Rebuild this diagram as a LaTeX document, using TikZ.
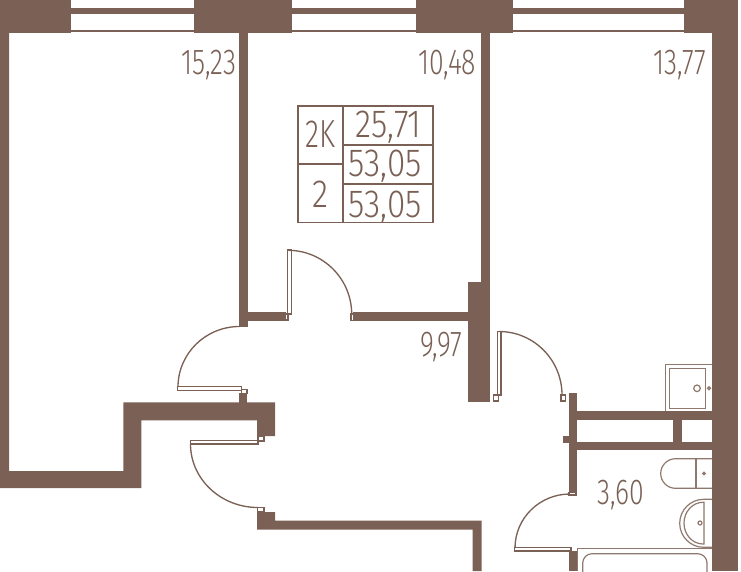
\documentclass[tikz,border=0pt]{standalone}
\usepackage{fontspec}
\newfontfamily\planfont[FakeStretch=0.74]{Fira Sans Light}
\newfontfamily\cellfont[FakeStretch=0.85]{Fira Sans Light}
\newfontfamily\codefont[FakeStretch=0.74]{Fira Sans Light}
\definecolor{wall}{HTML}{7B6155}
\tikzset{
  wallfill/.style={fill=wall,draw=none},
  thin line/.style={draw=wall,line width=0.8pt,fill=none},
  door leaf/.style={draw=wall,line width=0.8pt,fill=white},
  door swing/.style={draw=wall,line width=1pt,fill=none},
  fixture/.style={draw=wall!85!white,line width=0.9pt,fill=none},
  area/.style={text=wall,anchor=base east,inner sep=0pt,font=\planfont\fontsize{27}{27}\selectfont},
  cell/.style={text=wall,anchor=base east,inner sep=0pt,font=\cellfont\fontsize{29.4}{29.4}\selectfont},
  code/.style={text=wall,anchor=base east,inner sep=0pt,font=\codefont\fontsize{29.4}{29.4}\selectfont},
}
\begin{document}
\begin{tikzpicture}[x=0.75pt,y=-0.75pt]
\useasboundingbox (0,0) rectangle (741,571);
\fill[white] (0,0) rectangle (741,571);
% window bands
\fill[wallfill] (0,8.3) rectangle (690,14);
\fill[wallfill] (0,29.5) rectangle (690,31.5);
% piers
\fill[wallfill] (0,0) rectangle (71,32.5);
\fill[wallfill] (194,0) rectangle (292,32.5);
\fill[wallfill] (416,0) rectangle (513,32.5);
\fill[wallfill] (684,0) rectangle (738.3,32.5);
% outer walls
\fill[wallfill] (712,0) rectangle (738.3,571);
\fill[wallfill] (0,32) -- (9,32) -- (9,471) -- (123.3,471) -- (123.3,402.3) -- (275,402.3) -- (275,436) -- (257,436) -- (257,420.3) -- (141.3,420.3) -- (141.3,488) -- (0,488) -- cycle;
% partitions
\fill[wallfill] (239.3,32) rectangle (248,327);
\fill[wallfill] (248,312) rectangle (286,320.7);
\fill[wallfill] (353,312.3) rectangle (468,320.7);
\fill[wallfill] (481,32) rectangle (489.5,282);
\fill[wallfill] (468,281.7) rectangle (489.5,401.7);
\fill[wallfill] (239.3,393) rectangle (247.3,403);
\fill[wallfill] (568.7,393.3) rectangle (577,492.7);
\fill[wallfill] (562.7,435.7) rectangle (569,443);
\fill[wallfill] (577,411.3) rectangle (712,420);
\fill[wallfill] (577,441.7) rectangle (712,450);
\fill[wallfill] (673.3,420) rectangle (681.7,442);
\fill[wallfill] (568.7,551) rectangle (577,571);
\fill[wallfill] (257,512) -- (275,512) -- (275,520.5) -- (481.7,520.5) -- (481.7,571) -- (472.7,571) -- (472.7,529.5) -- (257,529.5) -- cycle;
% doors: leaves and jambs
\path[door leaf] (287.5,250) rectangle (291.3,314);
\path[door leaf] (285.2,314) rectangle (288,320);
\path[door leaf] (351,314) rectangle (354,320.5);
\draw[door swing] (288,250.3) arc[start angle=-90,end angle=0,x radius=63.7,y radius=64];
\path[door leaf] (177.5,386.3) rectangle (241.5,390.5);
\path[door leaf] (241.3,389.5) rectangle (247,393.3);
\draw[door swing] (178,387) arc[start angle=180,end angle=270,x radius=61.5,y radius=60.5];
\path[door leaf] (190.3,440.3) rectangle (258,444);
\path[door leaf] (258,436.7) rectangle (264,441);
\path[door leaf] (257.7,507.3) rectangle (264,512);
\draw[door swing] (190.5,444) arc[start angle=180,end angle=90,x radius=67.5,y radius=63.5];
\path[door leaf] (497.3,331.5) rectangle (501,395);
\path[door leaf] (493.3,395) rectangle (498.3,401);
\path[door leaf] (561,395) rectangle (565.7,401);
\draw[door swing] (499,331.5) arc[start angle=-90,end angle=0,x radius=63,y radius=63.5];
\path[door leaf] (514.5,547.5) rectangle (571,551);
\path[door leaf] (569,492.5) rectangle (576,495);
\draw[door swing] (515,548) arc[start angle=180,end angle=270,x radius=55,y radius=54];
% shower tray
\path[fixture] (712,364.3) -- (665.7,364.3) -- (665.7,411);
\path[fixture,line width=1.2pt] (669.3,368.3) rectangle (705.3,408.3);
\path[fixture] (697,388.3) circle[radius=3.3];
\path[fixture] (709,388.3) circle[radius=1.5];
% toilet
\path[fixture] (712,458.7) -- (675.5,458.7) arc[start angle=270,end angle=90,radius=14.8] -- (712,488.3);
\path[fixture] (696,458.7) -- (696,488.3);
\path[fixture] (704,473.5) circle[radius=1.2];
% basin
\path[fixture] (712,499.3) -- (703.7,499.3) arc[start angle=270,end angle=90,radius=24] -- (712,547.3);
\path[fixture] (704,502.3) -- (704,544) -- (703,544) arc[start angle=90,end angle=270,x radius=19,y radius=20.85] -- cycle;
\path[fixture] (700,523) circle[radius=2];
% bath
\path[fixture] (577.3,571) -- (577.3,548.3) -- (712,548.3);
\path[fixture,rounded corners=7pt] (582.7,575) -- (582.7,553.7) -- (707,553.7) -- (707,575);
% area table
\path[thin line] (298,106) rectangle (433,222.5);
\path[thin line] (343,106) -- (343,222.5);
\path[thin line] (298,164) -- (343,164);
\path[thin line] (343,145) -- (433,145);
\path[thin line] (343,184) -- (433,184);
\node[code] (typecode) at (336,147) {2K};
\node[cell] (roomcount) at (329,207) {2};
\node[cell] (living) at (422,137) {25,71};
\node[cell] (total) at (422,176.5) {53,05};
\node[cell] (overall) at (422,217) {53,05};
% room areas
\node[area] (roomA) at (236.5,74.5) {15,23};
\node[area] (roomB) at (476.5,74.5) {10,48};
\node[area] (roomC) at (706.5,74.5) {13,77};
\node[area] (hall) at (462.8,356.5) {9,97};
\node[area] (bathroom) at (644.8,504.5) {3,60};
\end{tikzpicture}
\end{document}
